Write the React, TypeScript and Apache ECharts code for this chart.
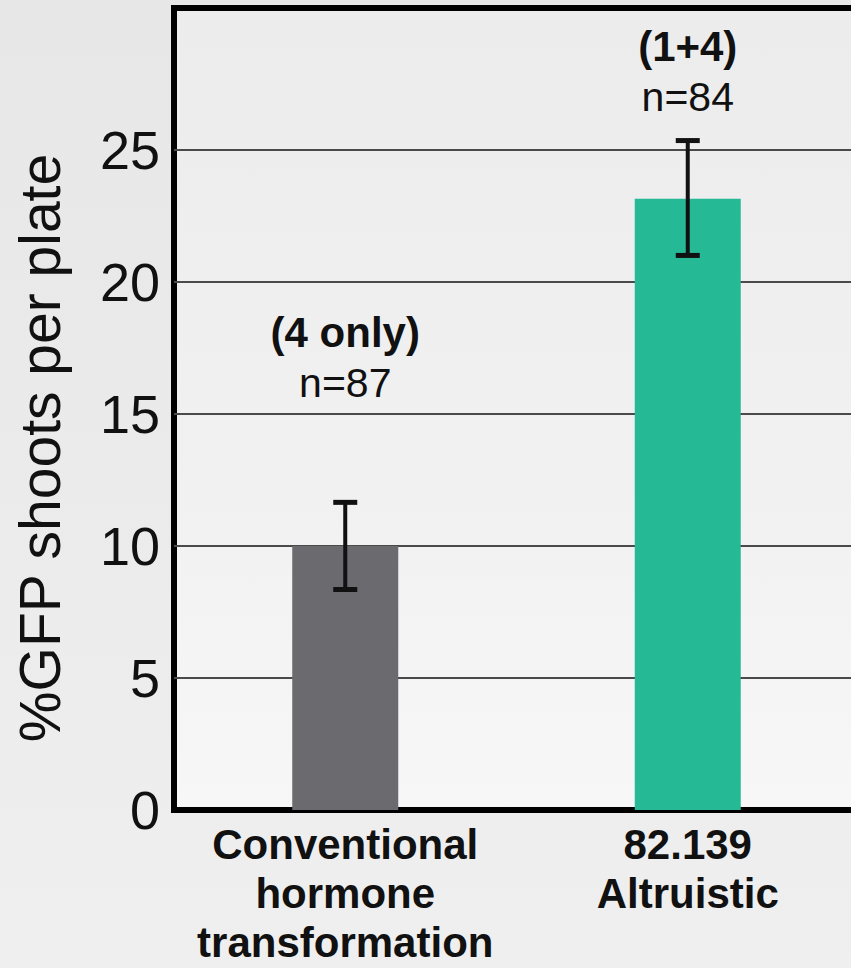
import React, { useEffect, useRef } from "react";
import * as echarts from "echarts";

const categories = ["Conventional\nhormone\ntransformation", "82.139\nAltruistic"];
const values = [10, 23.15];
const errLow = [8.35, 21.0];
const errHigh = [11.65, 25.35];
const groupLabels = ["(4 only)", "(1+4)"];
const nLabels = ["n=87", "n=84"];
const yTicks = [5, 10, 15, 20, 25];
const yTitle = "%GFP shoots per plate";

const BAR_COLORS = ["#6a6a6f", "#25b996"];
const LABEL_GAPS = [137, 76];
const FONT = "'Liberation Sans', Arial, Helvetica, sans-serif";

export default function App() {
  const ref = useRef<HTMLDivElement>(null);
  useEffect(() => {
    if (!ref.current) return;
    const chart = echarts.init(ref.current, null, { renderer: "svg" });
    const option: any = {
      animation: false,
      backgroundColor: new echarts.graphic.LinearGradient(0, 0, 0, 1, [
        { offset: 0, color: "#e7e7e7" },
        { offset: 1, color: "#efefef" },
      ]),
      grid: {
        left: 174,
        top: 8,
        right: 21,
        bottom: 158,
        show: true,
        borderColor: "#000",
        borderWidth: 6,
        backgroundColor: new echarts.graphic.LinearGradient(0, 0, 0, 1, [
          { offset: 0, color: "#ececec" },
          { offset: 0.6, color: "#f1f1f1" },
          { offset: 1, color: "#f7f7f7" },
        ]),
      },
      graphic: [
        {
          type: "text",
          x: 40,
          y: 448,
          rotation: Math.PI / 2,
          style: {
            text: yTitle,
            font: `57px ${FONT}`,
            fill: "#111",
            align: "center",
            verticalAlign: "middle",
          },
        },
      ],
      xAxis: {
        type: "category",
        data: categories,
        axisLine: { show: true, lineStyle: { color: "#000", width: 6 } },
        axisTick: { show: false },
        axisLabel: {
          interval: 0,
          margin: 10,
          color: "#111",
          fontFamily: FONT,
          fontWeight: "bold",
          fontSize: 42,
          lineHeight: 49,
          verticalAlign: "top",
        },
      },
      yAxis: {
        type: "value",
        min: 0,
        max: 30.37,
        interval: 5,
        axisLine: { show: true, lineStyle: { color: "#000", width: 6 } },
        axisTick: { show: false },
        splitLine: { show: false },
        axisLabel: {
          margin: 14,
          color: "#111",
          fontFamily: FONT,
          fontSize: 54,
          formatter: (v: number) => (v % 5 === 0 && v <= 25 ? String(v) : ""),
        },
      },
      series: [
        {
          type: "bar",
          barWidth: 106,
          z: 2,
          data: values.map((v, i) => ({
            value: v,
            itemStyle: { color: BAR_COLORS[i] },
            label: { distance: LABEL_GAPS[i] },
          })),
          label: {
            show: true,
            position: "top",
            color: "#111",
            fontFamily: FONT,
            formatter: (p: any) =>
              `{b|${groupLabels[p.dataIndex]}}\n{n|${nLabels[p.dataIndex]}}`,
            rich: {
              b: { fontFamily: FONT, fontWeight: "bold", fontSize: 42, lineHeight: 51, color: "#111" },
              n: { fontFamily: FONT, fontSize: 41, lineHeight: 51, color: "#111" },
            },
          },
          markLine: {
            z: 1,
            silent: true,
            symbol: "none",
            label: { show: false },
            lineStyle: { color: "#4a4a4a", width: 2, type: "solid" },
            data: yTicks.map((t) => ({ yAxis: t })),
          },
        },
        {
          type: "custom",
          z: 3,
          data: values.map((_, i) => [i, errLow[i], errHigh[i]]),
          renderItem: (params: any, api: any) => {
            const lo = api.coord([api.value(0), api.value(1)]);
            const hi = api.coord([api.value(0), api.value(2)]);
            const x = lo[0];
            const half = 12;
            return {
              type: "group",
              children: [
                { type: "line", shape: { x1: x, y1: hi[1], x2: x, y2: lo[1] }, style: { stroke: "#111", lineWidth: 4 } },
                { type: "line", shape: { x1: x - half, y1: hi[1], x2: x + half, y2: hi[1] }, style: { stroke: "#111", lineWidth: 5 } },
                { type: "line", shape: { x1: x - half, y1: lo[1], x2: x + half, y2: lo[1] }, style: { stroke: "#111", lineWidth: 5 } },
              ],
            };
          },
        },
      ],
    };
    chart.setOption(option);
    return () => chart.dispose();
  }, []);
  return (
    <div style={{ position: "fixed", left: 0, top: 0, width: "851px", height: "968px", overflow: "hidden" }}>
      <div ref={ref} style={{ width: "880px", height: "968px" }} />
    </div>
  );
}
